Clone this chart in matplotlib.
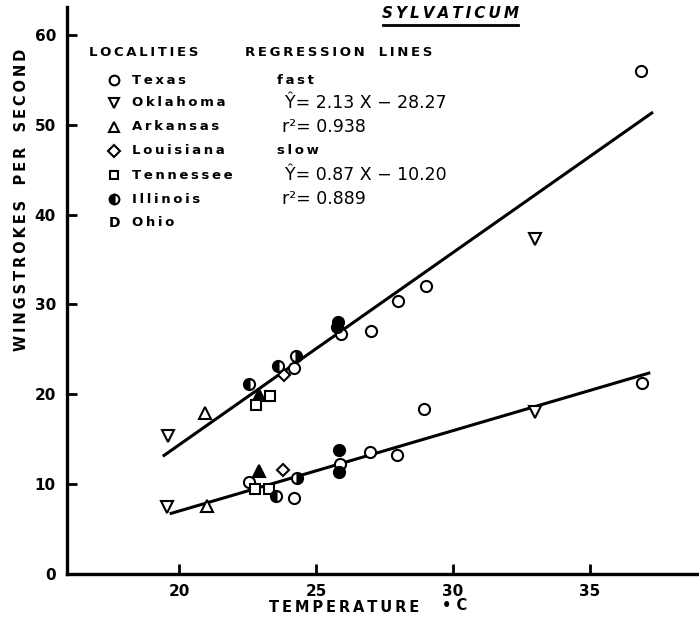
import matplotlib
matplotlib.use('Agg')
import matplotlib.pyplot as plt
from matplotlib.lines import Line2D

# 数据: 温度 (°C) 与每秒振翅次数
texas_t = [24.2, 25.9, 27.0, 28.0, 29.0, 36.85, 22.53, 24.2, 25.88, 26.95, 27.95, 28.95, 36.9]
texas_w = [22.9, 26.7, 27.0, 30.4, 32.0, 56.0, 10.2, 8.44, 12.26, 13.6, 13.2, 18.4, 21.3]
oklahoma_t = [19.6, 33.0, 19.55, 33.0]
oklahoma_w = [15.4, 37.3, 7.5, 18.0]
arkansas_t = [20.95, 21.0]
arkansas_w = [17.9, 7.6]
arkansas_filled_t = [22.9, 22.92]
arkansas_filled_w = [19.9, 11.45]
louisiana_t = [23.83, 23.78]
louisiana_w = [22.2, 11.6]
tennessee_t = [22.8, 23.3, 22.77, 23.28]
tennessee_w = [18.8, 19.8, 9.48, 9.48]
illinois_t = [22.53, 23.6, 23.53]
illinois_w = [21.2, 23.1, 8.66]
ohio_t = [24.26, 24.3]
ohio_w = [24.3, 10.67]
filled_t = [25.78, 25.76, 25.84, 25.84]
filled_w = [28.06, 27.5, 13.75, 11.34]

# 回归线 (端点从图上读取)
fast_x = [19.4, 37.3]
fast_y = [13.1, 51.4]
slow_x = [19.65, 37.2]
slow_y = [6.7, 22.4]

localities = ['Texas', 'Oklahoma', 'Arkansas', 'Louisiana', 'Tennessee', 'Illinois', 'Ohio']
regression_head = ['fast', 'slow']
regression_eq = ['\u0176= 2.13 X \u2212 28.27', 'r\u00b2= 0.938',
                 '\u0176= 0.87 X \u2212 10.20', 'r\u00b2= 0.889']

W, H = 699, 619
TS = '\u2009'

def sp(s):
    # 字母间加细空格, 单词间加普通空格
    return '   '.join(TS.join(w) for w in s.split(' '))

def fx(px):
    return px / W

def fy(py):
    return 1 - py / H

plt.rcParams['font.family'] = ['DejaVu Sans']
plt.rcParams['font.weight'] = 'bold'

fig = plt.figure(figsize=(6.99, 6.19), dpi=100)
ax = fig.add_axes([fx(67), fy(574), fx(699 - 67), (574 - 7) / H])

ms = 8
mew = 1.5
ax.plot(fast_x, fast_y, color='black', lw=2.2, solid_capstyle='butt')
ax.plot(slow_x, slow_y, color='black', lw=2.2, solid_capstyle='butt')
ax.plot(texas_t, texas_w, 'o', ms=ms, mfc='white', mec='black', mew=mew)
ax.plot(oklahoma_t, oklahoma_w, 'v', ms=ms, mfc='white', mec='black', mew=mew)
ax.plot(arkansas_t, arkansas_w, '^', ms=ms, mfc='white', mec='black', mew=mew)
ax.plot(arkansas_filled_t, arkansas_filled_w, '^', ms=ms, mfc='black', mec='black', mew=mew)
ax.plot(louisiana_t, louisiana_w, 'D', ms=6.5, mfc='white', mec='black', mew=mew)
ax.plot(tennessee_t, tennessee_w, 's', ms=7, mfc='white', mec='black', mew=mew)
ax.plot(illinois_t, illinois_w, 'o', ms=ms, fillstyle='left', mfc='black', mfcalt='white', mec='black', mew=mew)
ax.plot(ohio_t, ohio_w, 'o', ms=ms, fillstyle='right', mfc='black', mfcalt='white', mec='black', mew=mew)
ax.plot(filled_t, filled_w, 'o', ms=ms, mfc='black', mec='black', mew=mew)

ax.set_xlim(15.9, 38.98)
ax.set_ylim(0, 63.1)
ax.set_xticks([20, 25, 30, 35])
ax.set_yticks([0, 10, 20, 30, 40, 50, 60])
ax.tick_params(axis='both', direction='in', length=7, width=2, labelsize=11)
ax.tick_params(axis='x', pad=7)
ax.tick_params(axis='y', pad=8)
ax.spines['top'].set_visible(False)
ax.spines['right'].set_visible(False)
ax.spines['left'].set_linewidth(2.4)
ax.spines['bottom'].set_linewidth(2.4)
for lab in ax.get_xticklabels() + ax.get_yticklabels():
    lab.set_fontweight('bold')

# 轴标题
fig.text(fx(22), fy(200), sp('WINGSTROKES PER SECOND'),
         rotation=90, ha='center', va='center', fontsize=10.5, fontweight='bold')
fig.text(fx(344), fy(607), sp('TEMPERATURE'), ha='center', va='center', fontsize=10.5, fontweight='bold')
fig.text(fx(455), fy(605), '\u2022 C', ha='center', va='center', fontsize=10.5, fontweight='bold')

# 标题 (带下划线)
fig.text(fx(451), fy(13), sp('SYLVATICUM'), ha='center', va='center', fontsize=11,
         fontweight='bold', style='italic')
fig.add_artist(Line2D([fx(383), fx(518)], [fy(25), fy(25)], color='black', lw=2))

# 图例
fig.text(fx(89), fy(53), sp('LOCALITIES'), ha='left', va='center', fontsize=9.5, fontweight='bold')
fig.text(fx(245), fy(53), sp('REGRESSION LINES'), ha='left', va='center',
         fontsize=9.5, fontweight='bold')
rows = [80, 103, 127, 151, 175, 199, 223]
legend_styles = [
    dict(marker='o', ms=7, mfc='white'),
    dict(marker='v', ms=7, mfc='white'),
    dict(marker='^', ms=7, mfc='white'),
    dict(marker='D', ms=6, mfc='white'),
    dict(marker='s', ms=6, mfc='white'),
    dict(marker='o', ms=7, fillstyle='left', mfc='black', mfcalt='white'),
    None,
]
for name, py, st in zip(localities, rows, legend_styles):
    if st is None:
        fig.text(fx(114), fy(py), 'D', ha='center', va='center', fontsize=10, fontweight='bold')
    else:
        fig.add_artist(Line2D([fx(114)], [fy(py)], linestyle='none', mec='black', mew=1.5, **st))
    fig.text(fx(132), fy(py), sp(name), ha='left', va='center', fontsize=9.5, fontweight='bold')

for txt, py in zip(regression_head, [rows[0], rows[3]]):
    fig.text(fx(277), fy(py), sp(txt), ha='left', va='center', fontsize=9.5, fontweight='bold')
for txt, px, py in zip(regression_eq, [285, 282, 285, 282], [rows[1], rows[2], rows[4], rows[5]]):
    fig.text(fx(px), fy(py), txt, ha='left', va='center', fontsize=12.5, fontweight='normal')

fig.savefig('out.png', dpi=100)
